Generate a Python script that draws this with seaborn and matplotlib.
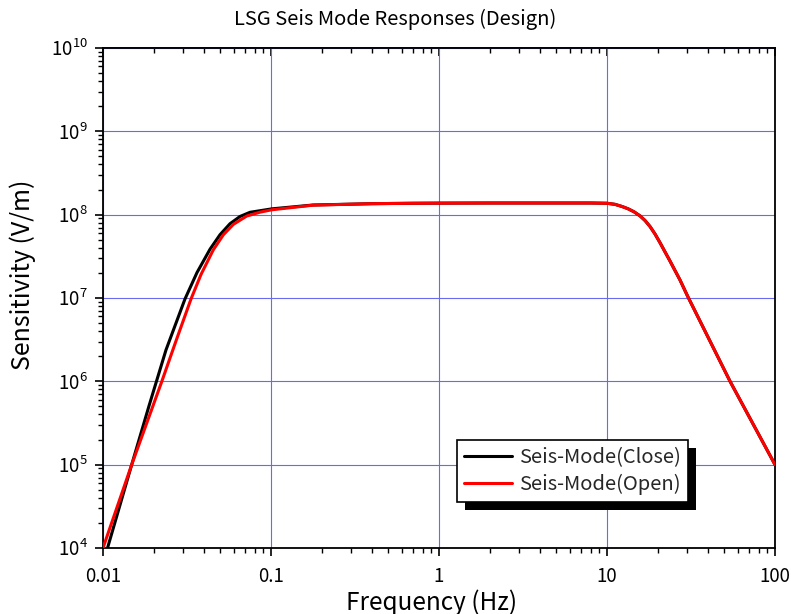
import numpy as np
import pandas as pd
import matplotlib
matplotlib.use("Agg")
import matplotlib.pyplot as plt
import seaborn as sns
from matplotlib.patches import Rectangle
from matplotlib.transforms import IdentityTransform
from matplotlib.ticker import FixedLocator, FixedFormatter, LogLocator, NullFormatter

# ---------------- data ----------------
close_low_freq = [0.01064, 0.01482, 0.01878, 0.02371, 0.03076, 0.03627, 0.04335,
                  0.04972, 0.05702, 0.06538, 0.0750, 0.1014, 0.1778]
close_low_sens = [1.0e4, 1.0e5, 5.06e5, 2.38e6, 9.73e6, 2.02e7, 3.85e7,
                  5.75e7, 7.79e7, 9.51e7, 1.068e8, 1.175e8, 1.306e8]

open_low_freq = [0.0100, 0.01482, 0.02236, 0.02719, 0.03341, 0.03831, 0.04534,
                 0.0520, 0.05965, 0.07166, 0.08601, 0.1010, 0.1778]
open_low_sens = [1.0e4, 1.0e5, 9.9e5, 3.05e6, 9.73e6, 1.914e7, 3.78e7,
                 5.72e7, 7.64e7, 9.62e7, 1.071e8, 1.144e8, 1.3e8]

shared_freq = [0.4, 0.7, 1.0, 2.0, 5.0, 8.0, 10.0, 11.16, 12.29, 13.34, 14.48,
               15.7, 16.84, 18.03, 19.31, 20.68, 22.14, 23.71, 27.2, 30.34,
               54.0, 100.0]
shared_sens = [1.355e8, 1.37e8, 1.375e8, 1.38e8, 1.38e8, 1.38e8, 1.37e8, 1.33e8,
               1.253e8, 1.177e8, 1.083e8, 9.69e7, 8.51e7, 7.21e7, 5.86e7, 4.61e7,
               3.58e7, 2.78e7, 1.644e7, 1.03e7, 1.0e6, 1.0e5]

series_names = ["Seis-Mode(Close)", "Seis-Mode(Open)"]
series_colors = ["#000000", "#ff0000"]

x_ticks = [0.01, 0.1, 1, 10, 100]
x_tick_labels = ["0.01", "0.1", "1", "10", "100"]
y_exponents = [4, 5, 6, 7, 8, 9, 10]

title_text = "LSG Seis Mode Responses (Design)"
x_label = "Frequency (Hz)"
y_label = "Sensitivity (V/m)"

# ---------------- build tables ----------------
df_close = pd.DataFrame({"freq": close_low_freq + shared_freq,
                         "sens": close_low_sens + shared_sens,
                         "series": series_names[0]})
df_open = pd.DataFrame({"freq": open_low_freq + shared_freq,
                        "sens": open_low_sens + shared_sens,
                        "series": series_names[1]})

# ---------------- style ----------------
sns.set_theme(style="white")
FONT = ["Noto Sans CJK JP", "DejaVu Sans"]
plt.rcParams["font.family"] = FONT
plt.rcParams["mathtext.fontset"] = "custom"
plt.rcParams["mathtext.rm"] = "Noto Sans CJK JP"
plt.rcParams["mathtext.it"] = "Noto Sans CJK JP"
plt.rcParams["mathtext.bf"] = "Noto Sans CJK JP"

fig = plt.figure(figsize=(7.91, 6.14), dpi=100)
fig.patch.set_facecolor("white")
ax = fig.add_axes([103 / 791, 66 / 614, 672 / 791, 500 / 614])
ax.set_facecolor("white")
ax.set_xscale("log")
ax.set_yscale("log")

sns.lineplot(data=df_close, x="freq", y="sens", color=series_colors[0],
             linewidth=2.2, label=series_names[0], ax=ax, zorder=3,
             estimator=None, sort=True)
sns.lineplot(data=df_open, x="freq", y="sens", color=series_colors[1],
             linewidth=2.2, label=series_names[1], ax=ax, zorder=4,
             estimator=None, sort=True)
for ln in ax.get_lines():
    ln.set_solid_joinstyle("round")
    ln.set_solid_capstyle("round")

ax.set_xlim(0.01, 100)
ax.set_ylim(1e4, 1e10)

# ticks
ax.xaxis.set_major_locator(FixedLocator(x_ticks))
ax.xaxis.set_major_formatter(FixedFormatter(x_tick_labels))
ax.xaxis.set_minor_locator(LogLocator(base=10, subs=np.arange(2, 10), numticks=20))
ax.xaxis.set_minor_formatter(NullFormatter())
ax.yaxis.set_major_locator(FixedLocator([10.0 ** e for e in y_exponents]))
ax.yaxis.set_major_formatter(FixedFormatter([r"$\mathregular{10^{%d}}$" % e for e in y_exponents]))
ax.yaxis.set_minor_locator(LogLocator(base=10, subs=np.arange(2, 10), numticks=20))
ax.yaxis.set_minor_formatter(NullFormatter())

ax.tick_params(axis="both", which="major", direction="out", length=6, width=1.2,
               color="black", labelsize=13.5, labelcolor="black")
ax.tick_params(axis="both", which="minor", direction="out", length=3.5, width=1.0,
               color="black")
ax.tick_params(axis="x", which="major", pad=7)
ax.tick_params(axis="y", which="major", pad=5)
ax.tick_params(axis="x", which="both", top=False, bottom=True)
ax.tick_params(axis="y", which="both", left=True, right=False)

for s in ax.spines.values():
    s.set_color("black")
    s.set_linewidth(1.3)

ax.grid(True, which="major", color="#6a6af0", linewidth=0.8)
ax.grid(False, which="minor")
ax.set_axisbelow(True)

# top axis with inward ticks
secx = ax.secondary_xaxis("top")
secx.set_xscale("log")
secx.xaxis.set_major_locator(FixedLocator(x_ticks))
secx.xaxis.set_minor_locator(LogLocator(base=10, subs=np.arange(2, 10), numticks=20))
secx.xaxis.set_major_formatter(NullFormatter())
secx.xaxis.set_minor_formatter(NullFormatter())
secx.tick_params(which="major", direction="in", length=6, width=1.2, color="black")
secx.tick_params(which="minor", direction="in", length=3.5, width=1.0, color="black")
secx.spines["top"].set_linewidth(1.3)

fig.text(0.5, 1 - 19 / 614, title_text, fontsize=14.5, color="black",
         ha="center", va="center")
ax.set_xlabel(x_label, fontsize=17.5, color="black")
ax.set_ylabel(y_label, fontsize=18, color="black")
ax.xaxis.set_label_coords((432 - 103) / 672, (548 - 589) / 500)
ax.yaxis.set_label_coords((36 - 103) / 672, (548 - 275) / 500)

leg = ax.legend(loc="upper left", bbox_to_anchor=((457 - 103) / 672, (548 - 440) / 500),
                borderaxespad=0, fontsize=14.5, frameon=True, fancybox=False,
                edgecolor="black", framealpha=1, handlelength=2.4,
                handletextpad=0.35, borderpad=0.35, labelspacing=0.3)
leg.get_frame().set_linewidth(1.2)
for line in leg.get_lines():
    line.set_linewidth(2.2)
leg.set_zorder(10)

fig.canvas.draw()
bb = leg.get_window_extent()
shadow = Rectangle((bb.x0 + 7.5, bb.y0 - 8), bb.width, bb.height,
                   transform=IdentityTransform(), facecolor="black",
                   edgecolor="none", zorder=9, clip_on=False)
ax.add_artist(shadow)

fig.savefig("out.png", dpi=100, facecolor="white")
